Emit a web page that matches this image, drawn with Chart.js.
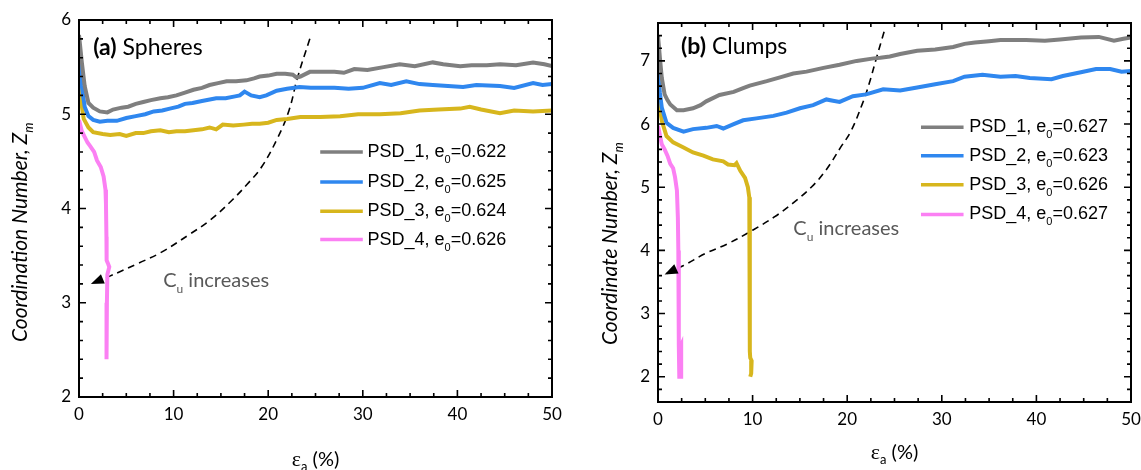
<!DOCTYPE html>
<html>

<head>
    <title>Coordination Number vs Axial Strain</title>
    <meta name="viewport" content="width=device-width, initial-scale=1.0">
    <script src="https://cdn.jsdelivr.net/npm/chart.js"></script>
    <style>
        body { margin: 0; background: #fff; }
        .row { display: flex; width: 1141px; height: 470px; }
    </style>
</head>

<body>
    <div class="row">
        <canvas id="chartA" width="570" height="470"></canvas>
        <canvas id="chartB" width="571" height="470"></canvas>
    </div>

    <script>
        // tick labels
        var xTicks = [0, 10, 20, 30, 40, 50];
        var yTicksA = [2, 3, 4, 5, 6];
        var yTicksB = [2, 3, 4, 5, 6, 7];

        // series names and initial void ratios
        var seriesNames = ['PSD_1', 'PSD_2', 'PSD_3', 'PSD_4'];
        var e0A = ['0.622', '0.625', '0.624', '0.626'];
        var e0B = ['0.627', '0.623', '0.626', '0.627'];
        var colors = ['#7f7f7f', '#2f87ef', '#d7b61d', '#fb80f3'];

        // (a) Spheres
        var a1x = [0, 0.3, 0.6, 1.0, 1.5, 2.2, 3.0, 3.6, 4.5, 5.2, 6.0, 6.8, 7.6, 8.6, 9.4, 10.3, 11.2, 12.1, 13.0, 13.8, 14.7, 15.6, 16.6, 17.7, 18.5, 19.1, 20.0, 20.9, 21.8, 22.6, 23.0, 23.4, 24.4, 25.5, 27.0, 28.0, 29.1, 30.5, 32.2, 33.9, 35.5, 37.4, 38.5, 40.3, 41.5, 43.1, 44.5, 46.2, 48.0, 49.2, 50];
        var a1y = [5.84, 5.55, 5.3, 5.12, 5.07, 5.03, 5.02, 5.05, 5.07, 5.08, 5.11, 5.13, 5.15, 5.17, 5.18, 5.2, 5.23, 5.26, 5.28, 5.31, 5.33, 5.35, 5.35, 5.36, 5.38, 5.4, 5.41, 5.43, 5.43, 5.42, 5.39, 5.4, 5.45, 5.45, 5.45, 5.44, 5.48, 5.47, 5.5, 5.53, 5.51, 5.55, 5.53, 5.51, 5.52, 5.52, 5.53, 5.52, 5.55, 5.53, 5.51];
        var a2x = [0, 0.3, 0.6, 1.0, 1.5, 2.2, 3.0, 4.0, 5.0, 6.0, 7.0, 7.9, 8.8, 9.6, 10.5, 11.2, 12.0, 13.0, 14.5, 15.5, 16.5, 17.0, 17.5, 18.2, 19.1, 19.8, 20.9, 22.0, 23.3, 24.5, 25.5, 27.0, 28.5, 30.0, 31.8, 33.0, 34.6, 36.0, 37.4, 39.0, 40.6, 42.0, 44.5, 46.0, 48.0, 49.0, 50];
        var a2y = [5.64, 5.3, 5.08, 4.98, 4.94, 4.92, 4.93, 4.93, 4.96, 4.98, 5.0, 5.03, 5.04, 5.06, 5.08, 5.11, 5.12, 5.14, 5.17, 5.17, 5.19, 5.2, 5.24, 5.2, 5.18, 5.2, 5.25, 5.27, 5.29, 5.28, 5.28, 5.28, 5.27, 5.28, 5.33, 5.31, 5.35, 5.32, 5.31, 5.3, 5.29, 5.31, 5.3, 5.28, 5.33, 5.31, 5.32];
        var a3x = [0, 0.2, 0.5, 1.0, 1.5, 2.5, 3.3, 4.3, 5.0, 6.0, 6.8, 7.6, 8.6, 9.5, 10.3, 11.2, 12.1, 13.0, 13.8, 14.5, 15.2, 16.3, 17.4, 18.3, 19.1, 20.0, 20.9, 22.0, 23.4, 25.5, 27.6, 29.5, 31.8, 34.0, 36.0, 38.0, 40.3, 41.3, 42.5, 44.5, 46.0, 48.0, 50];
        var a3y = [5.33, 5.15, 4.95, 4.86, 4.81, 4.79, 4.78, 4.79, 4.77, 4.8, 4.8, 4.82, 4.83, 4.81, 4.82, 4.82, 4.83, 4.84, 4.86, 4.84, 4.89, 4.88, 4.89, 4.9, 4.9, 4.91, 4.94, 4.95, 4.97, 4.97, 4.98, 5.0, 5.0, 5.01, 5.04, 5.05, 5.06, 5.08, 5.05, 5.01, 5.04, 5.03, 5.04];
        var a4x = [0, 0.3, 0.6, 0.9, 1.2, 1.6, 1.9, 2.3, 2.6, 2.8, 2.85, 2.9, 2.92, 3.05, 3.2, 3.0, 2.95, 2.92, 2.9];
        var a4y = [4.94, 4.82, 4.76, 4.7, 4.66, 4.6, 4.51, 4.44, 4.34, 4.2, 4.05, 3.7, 3.45, 3.42, 3.38, 3.3, 3.0, 2.7, 2.4];
        // dashed "Cu increases" guide, last point is the arrow tip
        var guideAx = [24.4, 23.1, 22.2, 21.0, 19.3, 17.8, 16.2, 13.9, 11.6, 8.6, 6.3, 3.2, 1.25];
        var guideAy = [5.8, 5.39, 5.04, 4.75, 4.44, 4.26, 4.09, 3.88, 3.72, 3.53, 3.42, 3.28, 3.2];

        // (b) Clumps
        var b1x = [0, 0.2, 0.4, 0.7, 1.0, 1.3, 2.0, 2.7, 3.7, 4.5, 5.1, 6.5, 8.0, 9.0, 9.7, 11.5, 12.9, 14.3, 15.7, 17.5, 19.2, 21.0, 22.8, 23.5, 24.5, 25.6, 27.4, 29.3, 31.2, 32.4, 33.5, 35.0, 36.2, 38.9, 40.9, 42.5, 44.7, 46.6, 48.2, 49.2, 50];
        var b1y = [7.4, 7.05, 6.73, 6.47, 6.38, 6.31, 6.22, 6.22, 6.25, 6.3, 6.36, 6.46, 6.51, 6.57, 6.61, 6.68, 6.74, 6.8, 6.83, 6.89, 6.94, 7.0, 7.04, 7.05, 7.07, 7.11, 7.16, 7.18, 7.22, 7.27, 7.29, 7.31, 7.33, 7.33, 7.32, 7.34, 7.37, 7.38, 7.32, 7.35, 7.37];
        var b2x = [0, 0.2, 0.4, 0.9, 1.6, 2.7, 3.7, 5.1, 6.2, 6.9, 8.0, 9.0, 10.4, 12.2, 13.6, 15.0, 16.4, 17.8, 18.5, 19.2, 20.6, 22.0, 23.8, 25.6, 27.4, 29.3, 31.2, 32.4, 34.3, 36.2, 37.8, 39.3, 41.6, 42.8, 44.7, 46.3, 47.8, 49.0, 50];
        var b2y = [6.81, 6.5, 6.26, 6.02, 5.94, 5.88, 5.92, 5.94, 5.97, 5.93, 6.0, 6.06, 6.09, 6.13, 6.18, 6.25, 6.3, 6.39, 6.37, 6.35, 6.44, 6.47, 6.55, 6.53, 6.58, 6.63, 6.68, 6.75, 6.78, 6.75, 6.76, 6.73, 6.71, 6.76, 6.82, 6.87, 6.87, 6.83, 6.84];
        var b3x = [0, 0.2, 0.4, 0.9, 1.6, 2.7, 3.7, 4.8, 5.8, 6.9, 7.4, 8.1, 8.3, 8.7, 9.2, 9.5, 9.65, 9.7, 9.72, 9.7, 9.75, 9.9, 9.85, 9.75];
        var b3y = [6.52, 6.25, 6.05, 5.81, 5.71, 5.63, 5.55, 5.5, 5.44, 5.41, 5.36, 5.35, 5.38, 5.26, 5.15, 5.0, 4.84, 4.2, 3.0, 2.4, 2.3, 2.25, 2.05, 2.0];
        var b4x = [0, 0.4, 0.7, 1.0, 1.3, 1.6, 1.8, 2.0, 2.1, 2.15, 2.2, 2.2, 2.25, 2.45, 2.45, 2.3];
        var b4y = [5.97, 5.68, 5.6, 5.5, 5.37, 5.3, 5.16, 4.95, 4.52, 4.0, 3.2, 2.5, 2.0, 2.0, 2.5, 2.45];
        var guideBx = [23.9, 23.1, 22.3, 21.6, 20.4, 19.3, 17.7, 16.2, 14.2, 12.3, 10.0, 7.3, 5.0, 2.7, 0.7];
        var guideBy = [7.46, 7.05, 6.63, 6.32, 5.89, 5.63, 5.26, 5.0, 4.74, 4.53, 4.32, 4.1, 3.95, 3.76, 3.62];

        function pts(xs, ys) {
            return xs.map(function (x, i) { return { x: x, y: ys[i] }; });
        }

        // draws a run of text pieces (for sub-scripts)
        function drawParts(ctx, x, y, parts, align) {
            var total = 0;
            parts.forEach(function (p) { ctx.font = p.font; total += ctx.measureText(p.t).width; });
            var cx = align === 'center' ? x - total / 2 : x;
            ctx.textAlign = 'left';
            ctx.textBaseline = 'middle';
            parts.forEach(function (p) {
                ctx.font = p.font;
                ctx.fillText(p.t, cx, y + (p.dy || 0));
                cx += ctx.measureText(p.t).width;
            });
        }

        var decor = {
            id: 'decor',
            afterDatasetsDraw: function (chart, args, o) {
                var ctx = chart.ctx, a = chart.chartArea;
                var xs = chart.scales.x, ys = chart.scales.y;
                ctx.save();

                // arrow head at end of the dashed guide
                var g = chart.data.datasets[4].data;
                var tip = g[g.length - 1], prev = g[g.length - 2];
                var tx = xs.getPixelForValue(tip.x), ty = ys.getPixelForValue(tip.y);
                var px = xs.getPixelForValue(prev.x), py = ys.getPixelForValue(prev.y);
                var ang = Math.atan2(ty - py, tx - px);
                ctx.fillStyle = '#000';
                ctx.beginPath();
                ctx.moveTo(tx, ty);
                ctx.lineTo(tx - 13 * Math.cos(ang) + 5 * Math.sin(ang), ty - 13 * Math.sin(ang) - 5 * Math.cos(ang));
                ctx.lineTo(tx - 13 * Math.cos(ang) - 5 * Math.sin(ang), ty - 13 * Math.sin(ang) + 5 * Math.cos(ang));
                ctx.closePath();
                ctx.fill();

                // frame
                ctx.strokeStyle = '#000';
                ctx.lineWidth = 2;
                ctx.strokeRect(a.left, a.top, a.right - a.left, a.bottom - a.top);

                // inward ticks on all four sides
                ctx.lineWidth = 1.6;
                ctx.beginPath();
                for (var v = xs.min; v <= xs.max + 1e-6; v += o.xMinor) {
                    var x = xs.getPixelForValue(v);
                    var len = Math.abs(v / 10 - Math.round(v / 10)) < 1e-6 ? 7 : 4;
                    ctx.moveTo(x, a.bottom); ctx.lineTo(x, a.bottom - len);
                    ctx.moveTo(x, a.top); ctx.lineTo(x, a.top + len);
                }
                for (var w = ys.min; w <= ys.max + 1e-6; w += o.yMinor) {
                    var y = ys.getPixelForValue(w);
                    var l2 = Math.abs(w - Math.round(w)) < 1e-6 ? 7 : 4;
                    ctx.moveTo(a.left, y); ctx.lineTo(a.left + l2, y);
                    ctx.moveTo(a.right, y); ctx.lineTo(a.right - l2, y);
                }
                ctx.stroke();

                // panel title
                ctx.fillStyle = '#000';
                drawParts(ctx, xs.getPixelForValue(o.title.x), ys.getPixelForValue(o.title.y), [
                    { t: o.title.tag, font: 'bold 23px Lato' },
                    { t: ' ' + o.title.text, font: '23px Lato' }
                ]);

                // legend
                var lg = o.legend;
                chart.data.datasets.slice(0, 4).forEach(function (ds, i) {
                    var yy = ys.getPixelForValue(lg.ys[i]);
                    ctx.strokeStyle = ds.borderColor;
                    ctx.lineWidth = 3.5;
                    ctx.beginPath();
                    ctx.moveTo(xs.getPixelForValue(lg.x0), yy);
                    ctx.lineTo(xs.getPixelForValue(lg.x1), yy);
                    ctx.stroke();
                    ctx.fillStyle = '#000';
                    drawParts(ctx, xs.getPixelForValue(lg.xt), yy, [
                        { t: seriesNames[i] + ', e', font: '18px "Liberation Sans"' },
                        { t: '0', font: '11px "Liberation Sans"', dy: 8 },
                        { t: '=' + lg.e0[i], font: '18px "Liberation Sans"' }
                    ]);
                });

                // annotation
                ctx.fillStyle = '#595959';
                drawParts(ctx, xs.getPixelForValue(o.note.x), ys.getPixelForValue(o.note.y), [
                    { t: 'C', font: '20px Lato' },
                    { t: 'u', font: '12px Lato', dy: 9 },
                    { t: ' increases', font: '20px Lato' }
                ]);

                // axis titles
                ctx.fillStyle = '#000';
                drawParts(ctx, (a.left + a.right) / 2, o.xTitleY, [
                    { t: 'ε', font: '22px "Liberation Serif"' },
                    { t: 'a', font: '13px Lato', dy: 7 },
                    { t: ' (%)', font: '20px Lato' }
                ], 'center');

                ctx.translate(a.left - o.yTitleDx, a.bottom - o.yTitleDy);
                ctx.rotate(-Math.PI / 2);
                drawParts(ctx, 0, 0, [
                    { t: o.yTitle + ', Z', font: 'italic 21px Lato' },
                    { t: 'm', font: 'italic 13px Lato', dy: 9 }
                ]);
                ctx.restore();
            }
        };

        function makeChart(id, c) {
            var sets = c.series.map(function (s, i) {
                return {
                    label: seriesNames[i] + ', e0=' + c.e0[i],
                    data: pts(s[0], s[1]),
                    borderColor: colors[i],
                    borderWidth: 4,
                    showLine: true,
                    pointRadius: 0,
                    tension: 0
                };
            });
            sets.push({
                label: 'Cu increases',
                data: pts(c.guide[0], c.guide[1]),
                borderColor: '#000',
                borderWidth: 1.6,
                borderDash: [7, 5],
                showLine: true,
                pointRadius: 0,
                tension: 0.4
            });

            return new Chart(document.getElementById(id), {
                type: 'scatter',
                data: { datasets: sets },
                options: {
                    responsive: false,
                    animation: false,
                    layout: { padding: { left: 0, top: c.padTop, right: c.padRight, bottom: 0 } },
                    plugins: {
                        legend: { display: false },
                        tooltip: { enabled: false },
                        decor: c.decor
                    },
                    scales: {
                        x: {
                            type: 'linear', min: 0, max: 50,
                            grid: { display: false, drawTicks: false },
                            border: { display: false },
                            afterBuildTicks: function (s) { s.ticks = xTicks.map(function (v) { return { value: v }; }); },
                            afterFit: function (s) { s.height = c.xAxisH; s.paddingLeft = 0; s.paddingRight = 0; },
                            ticks: { color: '#000', font: { family: 'Lato', size: 17 }, padding: 7, maxRotation: 0 }
                        },
                        y: {
                            type: 'linear', min: c.yMin, max: c.yMax,
                            grid: { display: false, drawTicks: false },
                            border: { display: false },
                            afterBuildTicks: function (s) { s.ticks = c.yTicks.map(function (v) { return { value: v }; }); },
                            afterFit: function (s) { s.width = c.yAxisW; s.paddingTop = 0; s.paddingBottom = 0; },
                            ticks: { color: '#000', font: { family: 'Lato', size: 17 }, padding: 8 }
                        }
                    }
                },
                plugins: [decor]
            });
        }

        makeChart('chartA', {
            series: [[a1x, a1y], [a2x, a2y], [a3x, a3y], [a4x, a4y]],
            guide: [guideAx, guideAy],
            e0: e0A,
            yMin: 2, yMax: 6, yTicks: yTicksA,
            padTop: 20, padRight: 18, yAxisW: 79, xAxisH: 73,
            decor: {
                xMinor: 2.5, yMinor: 0.2,
                title: { tag: '(a)', text: 'Spheres', x: 1.5, y: 5.71 },
                legend: { x0: 25.5, x1: 30.0, xt: 30.5, ys: [4.6, 4.28, 3.97, 3.67], e0: e0A },
                note: { x: 8.9, y: 3.24 },
                xTitleY: 460, yTitle: 'Coordination Number',
                yTitleDx: 59, yTitleDy: 55
            }
        });

        makeChart('chartB', {
            series: [[b1x, b1y], [b2x, b2y], [b3x, b3y], [b4x, b4y]],
            guide: [guideBx, guideBy],
            e0: e0B,
            yMin: 1.6, yMax: 7.6, yTicks: yTicksB,
            padTop: 23, padRight: 10, yAxisW: 88, xAxisH: 68,
            decor: {
                xMinor: 2.5, yMinor: 0.2,
                title: { tag: '(b)', text: 'Clumps', x: 2.43, y: 7.23 },
                legend: { x0: 27.8, x1: 32.3, xt: 32.9, ys: [5.95, 5.5, 5.04, 4.57], e0: e0B },
                note: { x: 14.3, y: 4.35 },
                xTitleY: 453, yTitle: 'Coordinate Number',
                yTitleDx: 48, yTitleDy: 57
            }
        });
    </script>
</body>

</html>
